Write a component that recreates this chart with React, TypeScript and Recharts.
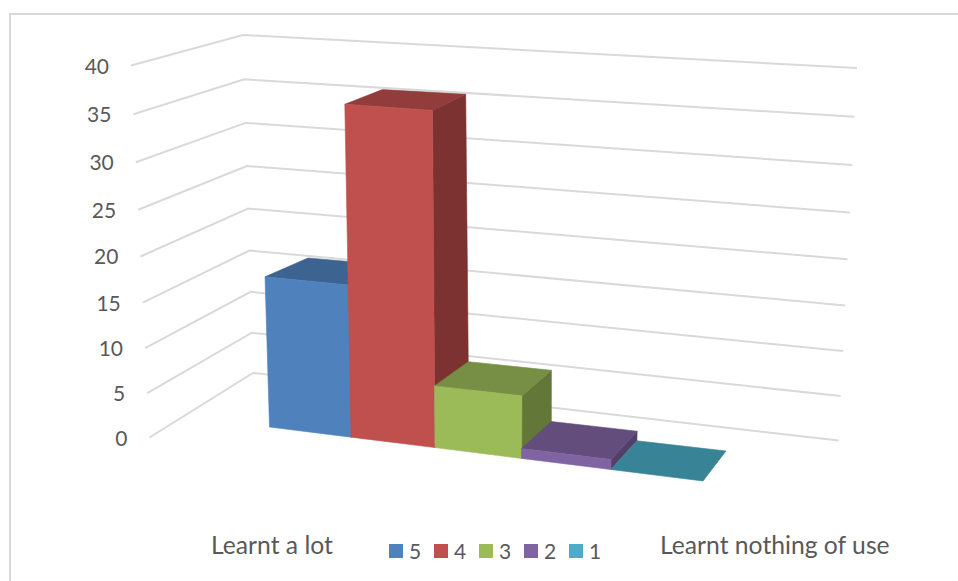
import React from "react";
import { BarChart, Bar, CartesianGrid, XAxis, YAxis, Legend } from "recharts";

// Survey answers on a five point scale, one series per answer.
const seriesNames = ["5", "4", "3", "2", "1"];
const seriesValues = [16, 35, 6.4, 1, 0];
const categories = ["Responses"];
const valueTicks = [0, 5, 10, 15, 20, 25, 30, 35, 40];
const endLabels = ["Learnt a lot", "Learnt nothing of use"];

const faceColors = ["#4f81bd", "#c0504d", "#9bbb59", "#8064a2", "#4bacc6"];
const topColors = ["#3d6391", "#923d3b", "#768f44", "#624d7c", "#398397"];
const sideColors = ["#335379", "#7b3231", "#637838", "#534068", "#307080"];

const rows = categories.map((name) => {
  const row: Record<string, string | number> = { name };
  seriesNames.forEach((s, i) => (row[s] = seriesValues[i]));
  return row;
});

const WIDTH = 958;
const HEIGHT = 581;
const AXIS_W = 1;
const MARGIN = { top: 40, right: 158, bottom: 141, left: 100 - AXIS_W };
const PLOT_LEFT = MARGIN.left + AXIS_W;
const PLOT_W = WIDTH - PLOT_LEFT - MARGIN.right;
const PLOT_H = HEIGHT - MARGIN.top - MARGIN.bottom;

type Pt = [number, number];
type Quad = { bl: Pt; br: Pt; tl: Pt; tr: Pt };

// Plane of the front faces and plane of the rear faces of the columns.
const barFront: Quad = { bl: [269.5, 427], br: [703, 481], tl: [258.2, 51.5], tr: [714, 79.6] };
const barBack: Quad = { bl: [313, 403.6], br: [726, 451], tl: [300.5, 39.5], tr: [737, 61] };
// Rear wall, and the near edge of the side wall.
const wallBack: Quad = { bl: [253, 373], br: [838.5, 440.5], tl: [243, 35], tr: [857, 68] };
const wallFront = { bottom: [149.5, 437.5] as Pt, top: [131, 65.5] as Pt };

const lerp = (a: number, b: number, t: number) => a + (b - a) * t;
const lerpPt = (a: Pt, b: Pt, t: number): Pt => [lerp(a[0], b[0], t), lerp(a[1], b[1], t)];

// Foreshortening of a unit interval along a receding direction.
const recede = (t: number, k: number) => t / (t + k * (1 - t));

const onQuad = (q: Quad, u: number, h: number): Pt =>
  lerpPt(lerpPt(q.bl, q.br, u), lerpPt(q.tl, q.tr, u), h);

// Flat plot pixel to fractions of the plot area.
const toU = (x: number) => (x - PLOT_LEFT) / PLOT_W;
const toH = (y: number) => (MARGIN.top + PLOT_H - y) / PLOT_H;

const barPoint = (x: number, y: number, back: boolean): Pt =>
  onQuad(back ? barBack : barFront, recede(toU(x), back ? 1.1 : 1.08), toH(y));

const polygon = (pts: Pt[]) => pts.map((p) => `${p[0].toFixed(1)},${p[1].toFixed(1)}`).join(" ");

const Face = ({ pts, color }: { pts: Pt[]; color: string }) => (
  <polygon points={polygon(pts)} fill={color} stroke={color} strokeWidth={0.6} strokeLinejoin="round" />
);

const makeBarShape = (index: number) => (props: any) => {
  const { x, y, width, height } = props;
  const left = x;
  const right = x + width;
  const top = y;
  const bottom = y + height;
  const fbl = barPoint(left, bottom, false);
  const fbr = barPoint(right, bottom, false);
  const ftl = barPoint(left, top, false);
  const ftr = barPoint(right, top, false);
  const btl = barPoint(left, top, true);
  const btr = barPoint(right, top, true);
  const bbr = barPoint(right, bottom, true);
  const hasBody = Math.abs(height) > 0;
  return (
    <g>
      {hasBody && <Face pts={[ftr, btr, bbr, fbr]} color={sideColors[index]} />}
      <Face pts={[ftl, btl, btr, ftr]} color={topColors[index]} />
      {hasBody && <Face pts={[fbl, fbr, ftr, ftl]} color={faceColors[index]} />}
    </g>
  );
};

const wallLine = (props: any) => {
  const h = recede(toH(props.y1), 1.055);
  const near = lerpPt(wallFront.bottom, wallFront.top, h);
  const corner = onQuad(wallBack, 0, h);
  const far = onQuad(wallBack, 1, h);
  return (
    <polyline
      key={props.y1}
      points={polygon([near, corner, far])}
      fill="none"
      stroke="#d9d9d9"
      strokeWidth={2}
    />
  );
};

const ValueTick = (props: any) => {
  const h = recede(toH(props.y), 1.055);
  const p = lerpPt(wallFront.bottom, wallFront.top, h);
  return (
    <text x={p[0] - 22} y={p[1] + 8} textAnchor="end" fontSize={21} fill="#595959">
      {props.payload.value}
    </text>
  );
};

const LegendRow = (props: any) => (
  <div
    style={{
      position: "absolute",
      left: 389,
      top: 541,
      display: "flex",
      fontSize: 21,
      lineHeight: "20px",
      color: "#595959",
      fontFamily: "Lato, sans-serif",
    }}
  >
    {(props.payload || []).map((item: any) => (
      <div key={item.value} style={{ display: "flex", alignItems: "center", width: 45 }}>
        <span style={{ width: 14, height: 14, background: item.color, marginRight: 6 }} />
        <span>{item.value}</span>
      </div>
    ))}
  </div>
);

export default function App() {
  return (
    <div style={{ position: "absolute", left: 0, top: 0, width: WIDTH, height: HEIGHT, overflow: "hidden", background: "#fff" }}>
      <div
        style={{
          position: "absolute",
          left: 9,
          top: 13,
          width: 960,
          height: 600,
          border: "2px solid #d9d9d9",
        }}
      />
      <BarChart
        width={WIDTH}
        height={HEIGHT}
        data={rows}
        margin={MARGIN}
        barGap={0}
        barCategoryGap={0}
        style={{ fontFamily: "Lato, sans-serif" }}
      >
        <CartesianGrid horizontal={wallLine} vertical={false} />
        <XAxis dataKey="name" hide />
        <YAxis
          width={AXIS_W}
          domain={[0, 40]}
          ticks={valueTicks}
          axisLine={false}
          tickLine={false}
          tick={ValueTick}
          interval={0}
        />
        <Legend
          verticalAlign="top"
          itemSorter={null}
          content={LegendRow}
          wrapperStyle={{ position: "absolute", left: 0, top: 0, width: 0, height: 0 }}
        />
        {seriesNames.map((name, i) => (
          <Bar
            key={name}
            dataKey={name}
            fill={faceColors[i]}
            shape={makeBarShape(i)}
            isAnimationActive={false}
          />
        ))}
        <text x={211} y={553.5} fontSize={24.7} fill="#595959">
          {endLabels[0]}
        </text>
        <text x={660} y={553.5} fontSize={24.7} fill="#595959">
          {endLabels[1]}
        </text>
      </BarChart>
    </div>
  );
}
